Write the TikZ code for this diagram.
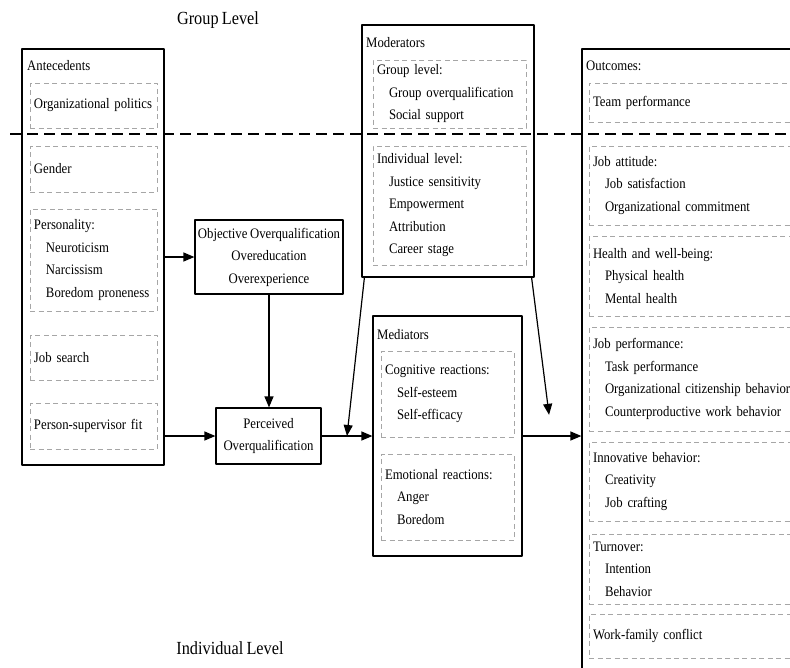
\documentclass[tikz,border=0pt]{standalone}
\usepackage{fontspec}
\setmainfont{Liberation Serif}[FakeStretch=0.88, WordSpace=0.8]
\usetikzlibrary{arrows.meta,calc}
\newcommand\itm{\hspace*{12pt}}
\begin{document}
\begin{tikzpicture}[x=1pt, y=-1pt, line join=round, >={Triangle[length=11pt,width=9pt]},
  font=\fontsize{14.5}{22.5}\selectfont,
  bigbox/.style 2 args={draw, line width=1.2pt, minimum width=#1, minimum height=#2, inner sep=0pt},
  dbox/.style 2 args={draw=gray!70, line width=.9pt, dash pattern=on 5pt off 3.5pt, text width=#1, minimum height=#2, inner xsep=4pt, inner ysep=0pt, align=left},
  lbl/.style={anchor=west, inner sep=0pt},
  hd/.style={font=\fontsize{18.5}{22}\selectfont},
  flow/.style={->, line width=1.2pt}]
  \useasboundingbox (0,0) rectangle (790,667);
  \clip (0,0) rectangle (790,667);

  \node[hd] (grp) at (218,20) {Group Level};
  \node[hd] (indiv) at (230,648) {Individual Level};

  \node[bigbox={142pt}{416pt}] (ante) at (93,257) {};
  \node[lbl] (antet) at (27,66) {Antecedents};
  \node[dbox={119pt}{45pt}] (org) at (93.5,105.5) {Organizational politics};
  \node[dbox={119pt}{46pt}] (gen) at (93.5,169) {Gender};
  \node[dbox={119pt}{102pt}] (pers) at (93.5,260) {Personality:\\\itm Neuroticism\\\itm Narcissism\\\itm Boredom proneness};
  \node[dbox={119pt}{45pt}] (jobs) at (93.5,357.5) {Job search};
  \node[dbox={119pt}{46pt}] (psf) at (93.5,426) {Person-supervisor fit};

  \node[bigbox={148pt}{74pt}, align=center] (oo) at (269,257) {Objective Overqualification\\Overeducation\\Overexperience};
  \node[bigbox={105pt}{56pt}, align=center] (po) at (268.5,436) {Perceived\\Overqualification};

  \node[bigbox={172pt}{252pt}] (mod) at (448,151) {};
  \node[lbl] (modt) at (366,43) {Moderators};
  \node[dbox={145pt}{68pt}] (modg) at (449.5,94) {Group level:\\\itm Group overqualification\\\itm Social support};
  \node[dbox={145pt}{119pt}] (modi) at (449.5,205.5) {Individual level:\\\itm Justice sensitivity\\\itm Empowerment\\\itm Attribution\\\itm Career stage};

  \node[bigbox={149pt}{240pt}] (med) at (447.5,436) {};
  \node[lbl] (medt) at (377,335) {Mediators};
  \node[dbox={125pt}{86pt}] (cog) at (447.5,394) {Cognitive reactions:\\\itm Self-esteem\\\itm Self-efficacy};
  \node[dbox={125pt}{86pt}] (emo) at (447.5,497) {Emotional reactions:\\\itm Anger\\\itm Boredom};

  \node[bigbox={230pt}{680pt}] (out) at (697,389) {};
  \node[lbl] (outt) at (586,66) {Outcomes:};
  \node[dbox={203pt}{39pt}] (team) at (694.5,102.5) {Team performance};
  \node[dbox={203pt}{79pt}] (att) at (694.5,185.5) {Job attitude:\\\itm Job satisfaction\\\itm Organizational commitment};
  \node[dbox={203pt}{80pt}] (hlth) at (694.5,276) {Health and well-being:\\\itm Physical health\\\itm Mental health};
  \node[dbox={203pt}{104pt}] (perf) at (694.5,379) {Job performance:\\\itm Task performance\\\itm Organizational citizenship behavior\\\itm Counterproductive work behavior};
  \node[dbox={203pt}{79pt}] (innov) at (694.5,481.5) {Innovative behavior:\\\itm Creativity\\\itm Job crafting};
  \node[dbox={203pt}{70pt}] (turn) at (694.5,569) {Turnover:\\\itm Intention\\\itm Behavior};
  \node[dbox={203pt}{44pt}] (wfc) at (694.5,636) {Work-family conflict};

  \draw[line width=2pt, dash pattern=on 11pt off 6pt] (10,134) -- (795,134);

  \draw[flow] (ante.east |- oo.west) -- (oo.west);
  \draw[flow] (ante.east |- po.west) -- (po.west);
  \draw[flow] (oo.south) -- (oo.south |- po.north);
  \draw[flow] (po.east) -- (med.west);
  \draw[flow] (med.east) -- (med.east -| out.west);
  \coordinate (mdl) at ($(po.east)!.5!(med.west)$);
  \coordinate (mdr) at ($(med.east)!.45!(out.west)$);
  \draw[flow] ([xshift=3pt]mod.south west) -- (mdl);
  \draw[flow] ([xshift=-3pt]mod.south east) -- (mdr);
\end{tikzpicture}
\end{document}
